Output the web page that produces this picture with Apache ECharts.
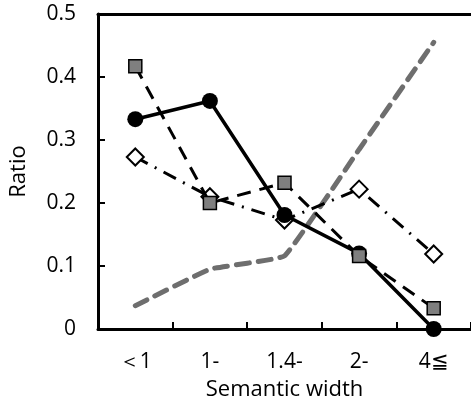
<!DOCTYPE html>
<html><head><meta charset="utf-8">
<script src="https://cdn.jsdelivr.net/npm/echarts@6/dist/echarts.min.js"></script>
<style>html,body{margin:0;padding:0;background:#fff}#c{width:471px;height:409px}</style>
</head><body><div id="c"></div>
<script>
var categories = ['＜1', '1-', '1.4-', '2-', '4≦'];
var yTicks = [0, 0.1, 0.2, 0.3, 0.4, 0.5];
var circleSeries = [0.333, 0.362, 0.181, 0.120, 0.0];
var squareSeries = [0.417, 0.200, 0.232, 0.116, 0.033];
var diamondSeries = [0.273, 0.210, 0.173, 0.222, 0.119];
var graySeries = [0.037, 0.095, 0.116, 0.285, 0.455];

var font = '"Open Sans", "Noto Sans", sans-serif';
var chart = echarts.init(document.getElementById('c'), null, {renderer: 'canvas'});
chart.setOption({
  animation: false,
  backgroundColor: '#fff',
  grid: {left: 96, right: 0, top: 14, bottom: 80},
  xAxis: [{
    type: 'category', data: categories, boundaryGap: true,
    name: 'Semantic width', nameLocation: 'middle', nameGap: 50,
    nameTextStyle: {color: '#000', fontSize: 22, fontFamily: font},
    axisLine: {lineStyle: {color: '#000', width: 3}},
    axisTick: {show: true, inside: true, length: 7, lineStyle: {color: '#000', width: 2}},
    axisLabel: {color: '#000', fontSize: 21, fontFamily: font, margin: 23},
    splitLine: {show: false}
  }, {
    type: 'category', data: categories, position: 'top',
    axisLine: {show: true, lineStyle: {color: '#000', width: 3}},
    axisTick: {show: false}, axisLabel: {show: false}, splitLine: {show: false}
  }],
  yAxis: {
    type: 'value', min: 0, max: 0.5, interval: 0.1,
    name: 'Ratio', nameLocation: 'middle', nameGap: 68,
    nameTextStyle: {color: '#000', fontSize: 22, fontFamily: font},
    axisLine: {show: true, lineStyle: {color: '#000', width: 3}},
    axisTick: {show: true, inside: true, length: 7, lineStyle: {color: '#000', width: 2}},
    axisLabel: {color: '#000', fontSize: 21, fontFamily: font, margin: 22,
      formatter: function (v) { return yTicks.indexOf(Math.round(v*10)/10) >= 0 ? (v === 0 ? '0' : v.toFixed(1)) : ''; }},
    splitLine: {show: false}
  },
  series: [{
    type: 'line', data: graySeries, smooth: 0.08, symbol: 'none', clip: false, z: 1,
    lineStyle: {color: '#6e6e6e', width: 5, type: [13, 9], cap: 'round'}
  }, {
    type: 'line', data: diamondSeries, symbol: 'diamond', symbolSize: 17, clip: false, z: 2,
    lineStyle: {color: '#000', width: 3, type: [14, 8, 2, 8]},
    itemStyle: {color: '#fff', borderColor: '#000', borderWidth: 2}
  }, {
    type: 'line', data: circleSeries, symbol: 'circle', symbolSize: 16, clip: false, z: 3,
    lineStyle: {color: '#000', width: 3.5},
    itemStyle: {color: '#000'}
  }, {
    type: 'line', data: squareSeries, symbol: 'rect', symbolSize: 13, clip: false, z: 4,
    lineStyle: {color: '#000', width: 3, type: [14, 9]},
    itemStyle: {color: '#7f7f7f', borderColor: '#000', borderWidth: 1.5}
  }]
});
</script></body></html>
